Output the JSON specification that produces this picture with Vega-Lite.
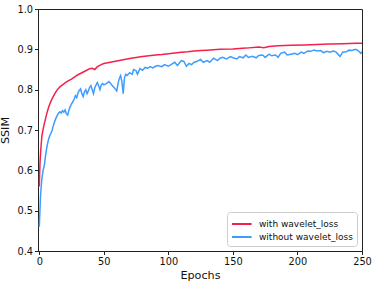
{
  "$schema": "https://vega.github.io/schema/vega-lite/v6.json",
  "width": 324,
  "height": 242,
  "autosize": {"type": "none"},
  "padding": {"left": 38, "top": 9, "right": 12, "bottom": 31},
  "background": "white",
  "config": {
    "view": {"stroke": "#222", "strokeWidth": 1},
    "font": "DejaVu Sans",
    "axis": {
      "labelFont": "DejaVu Sans",
      "labelFontSize": 9.8,
      "labelColor": "#111",
      "labelFlush": false,
      "titleFont": "DejaVu Sans",
      "titleFontSize": 11.2,
      "titleFontWeight": "normal",
      "titleColor": "#111",
      "tickColor": "#222",
      "domainColor": "#222",
      "tickSize": 3.5,
      "grid": false,
      "labelPadding": 2
    },
    "legend": {
      "labelFont": "DejaVu Sans",
      "labelFontSize": 9,
      "labelColor": "#111"
    }
  },
  "data": {
    "values": [
      {"e":0,"v":0.56,"s":"with wavelet_loss"},{"e":0.5,"v":0.615,"s":"with wavelet_loss"},{"e":1,"v":0.645,"s":"with wavelet_loss"},{"e":2,"v":0.685,"s":"with wavelet_loss"},{"e":3,"v":0.703,"s":"with wavelet_loss"},{"e":4,"v":0.717,"s":"with wavelet_loss"},{"e":5,"v":0.73,"s":"with wavelet_loss"},{"e":6,"v":0.743,"s":"with wavelet_loss"},{"e":7,"v":0.754,"s":"with wavelet_loss"},{"e":8,"v":0.763,"s":"with wavelet_loss"},{"e":9,"v":0.771,"s":"with wavelet_loss"},{"e":10,"v":0.778,"s":"with wavelet_loss"},{"e":12,"v":0.79,"s":"with wavelet_loss"},{"e":14,"v":0.8,"s":"with wavelet_loss"},{"e":16,"v":0.807,"s":"with wavelet_loss"},{"e":18,"v":0.812,"s":"with wavelet_loss"},{"e":20,"v":0.817,"s":"with wavelet_loss"},{"e":22,"v":0.821,"s":"with wavelet_loss"},{"e":25,"v":0.826,"s":"with wavelet_loss"},{"e":28,"v":0.833,"s":"with wavelet_loss"},{"e":30,"v":0.837,"s":"with wavelet_loss"},{"e":33,"v":0.842,"s":"with wavelet_loss"},{"e":36,"v":0.847,"s":"with wavelet_loss"},{"e":39,"v":0.852,"s":"with wavelet_loss"},{"e":41,"v":0.853,"s":"with wavelet_loss"},{"e":43,"v":0.85,"s":"with wavelet_loss"},{"e":45,"v":0.857,"s":"with wavelet_loss"},{"e":48,"v":0.862,"s":"with wavelet_loss"},{"e":50,"v":0.865,"s":"with wavelet_loss"},{"e":55,"v":0.868,"s":"with wavelet_loss"},{"e":60,"v":0.871,"s":"with wavelet_loss"},{"e":65,"v":0.874,"s":"with wavelet_loss"},{"e":70,"v":0.877,"s":"with wavelet_loss"},{"e":75,"v":0.88,"s":"with wavelet_loss"},{"e":80,"v":0.882,"s":"with wavelet_loss"},{"e":85,"v":0.884,"s":"with wavelet_loss"},{"e":90,"v":0.886,"s":"with wavelet_loss"},{"e":95,"v":0.887,"s":"with wavelet_loss"},{"e":100,"v":0.889,"s":"with wavelet_loss"},{"e":105,"v":0.891,"s":"with wavelet_loss"},{"e":110,"v":0.893,"s":"with wavelet_loss"},{"e":115,"v":0.894,"s":"with wavelet_loss"},{"e":120,"v":0.896,"s":"with wavelet_loss"},{"e":125,"v":0.897,"s":"with wavelet_loss"},{"e":130,"v":0.898,"s":"with wavelet_loss"},{"e":140,"v":0.9,"s":"with wavelet_loss"},{"e":150,"v":0.901,"s":"with wavelet_loss"},{"e":160,"v":0.903,"s":"with wavelet_loss"},{"e":170,"v":0.906,"s":"with wavelet_loss"},{"e":174,"v":0.904,"s":"with wavelet_loss"},{"e":178,"v":0.907,"s":"with wavelet_loss"},{"e":185,"v":0.909,"s":"with wavelet_loss"},{"e":195,"v":0.91,"s":"with wavelet_loss"},{"e":205,"v":0.911,"s":"with wavelet_loss"},{"e":215,"v":0.912,"s":"with wavelet_loss"},{"e":225,"v":0.913,"s":"with wavelet_loss"},{"e":235,"v":0.914,"s":"with wavelet_loss"},{"e":245,"v":0.915,"s":"with wavelet_loss"},{"e":250,"v":0.915,"s":"with wavelet_loss"},
      {"e":0,"v":0.46,"s":"without wavelet_loss"},{"e":1,"v":0.54,"s":"without wavelet_loss"},{"e":2,"v":0.58,"s":"without wavelet_loss"},{"e":3,"v":0.6,"s":"without wavelet_loss"},{"e":4,"v":0.615,"s":"without wavelet_loss"},{"e":5,"v":0.64,"s":"without wavelet_loss"},{"e":6,"v":0.66,"s":"without wavelet_loss"},{"e":7,"v":0.675,"s":"without wavelet_loss"},{"e":8,"v":0.685,"s":"without wavelet_loss"},{"e":9,"v":0.692,"s":"without wavelet_loss"},{"e":10,"v":0.7,"s":"without wavelet_loss"},{"e":11,"v":0.712,"s":"without wavelet_loss"},{"e":12,"v":0.722,"s":"without wavelet_loss"},{"e":13,"v":0.73,"s":"without wavelet_loss"},{"e":14,"v":0.737,"s":"without wavelet_loss"},{"e":15,"v":0.742,"s":"without wavelet_loss"},{"e":16,"v":0.745,"s":"without wavelet_loss"},{"e":17,"v":0.742,"s":"without wavelet_loss"},{"e":18,"v":0.748,"s":"without wavelet_loss"},{"e":19,"v":0.744,"s":"without wavelet_loss"},{"e":20,"v":0.75,"s":"without wavelet_loss"},{"e":21,"v":0.74,"s":"without wavelet_loss"},{"e":22,"v":0.737,"s":"without wavelet_loss"},{"e":23,"v":0.75,"s":"without wavelet_loss"},{"e":24,"v":0.758,"s":"without wavelet_loss"},{"e":25,"v":0.765,"s":"without wavelet_loss"},{"e":26,"v":0.77,"s":"without wavelet_loss"},{"e":27,"v":0.777,"s":"without wavelet_loss"},{"e":28,"v":0.785,"s":"without wavelet_loss"},{"e":29,"v":0.78,"s":"without wavelet_loss"},{"e":30,"v":0.792,"s":"without wavelet_loss"},{"e":31,"v":0.798,"s":"without wavelet_loss"},{"e":32,"v":0.802,"s":"without wavelet_loss"},{"e":33,"v":0.79,"s":"without wavelet_loss"},{"e":34,"v":0.783,"s":"without wavelet_loss"},{"e":35,"v":0.795,"s":"without wavelet_loss"},{"e":36,"v":0.8,"s":"without wavelet_loss"},{"e":37,"v":0.79,"s":"without wavelet_loss"},{"e":38,"v":0.797,"s":"without wavelet_loss"},{"e":39,"v":0.806,"s":"without wavelet_loss"},{"e":40,"v":0.81,"s":"without wavelet_loss"},{"e":41,"v":0.8,"s":"without wavelet_loss"},{"e":42,"v":0.79,"s":"without wavelet_loss"},{"e":43,"v":0.805,"s":"without wavelet_loss"},{"e":44,"v":0.812,"s":"without wavelet_loss"},{"e":45,"v":0.818,"s":"without wavelet_loss"},{"e":46,"v":0.81,"s":"without wavelet_loss"},{"e":47,"v":0.8,"s":"without wavelet_loss"},{"e":48,"v":0.812,"s":"without wavelet_loss"},{"e":49,"v":0.815,"s":"without wavelet_loss"},{"e":50,"v":0.812,"s":"without wavelet_loss"},{"e":52,"v":0.815,"s":"without wavelet_loss"},{"e":54,"v":0.82,"s":"without wavelet_loss"},{"e":56,"v":0.812,"s":"without wavelet_loss"},{"e":58,"v":0.805,"s":"without wavelet_loss"},{"e":60,"v":0.797,"s":"without wavelet_loss"},{"e":61,"v":0.815,"s":"without wavelet_loss"},{"e":62,"v":0.828,"s":"without wavelet_loss"},{"e":63,"v":0.835,"s":"without wavelet_loss"},{"e":64,"v":0.82,"s":"without wavelet_loss"},{"e":65,"v":0.79,"s":"without wavelet_loss"},{"e":66,"v":0.83,"s":"without wavelet_loss"},{"e":67,"v":0.838,"s":"without wavelet_loss"},{"e":68,"v":0.835,"s":"without wavelet_loss"},{"e":70,"v":0.842,"s":"without wavelet_loss"},{"e":72,"v":0.838,"s":"without wavelet_loss"},{"e":73,"v":0.85,"s":"without wavelet_loss"},{"e":75,"v":0.847,"s":"without wavelet_loss"},{"e":76,"v":0.838,"s":"without wavelet_loss"},{"e":78,"v":0.852,"s":"without wavelet_loss"},{"e":80,"v":0.848,"s":"without wavelet_loss"},{"e":82,"v":0.855,"s":"without wavelet_loss"},{"e":84,"v":0.853,"s":"without wavelet_loss"},{"e":86,"v":0.857,"s":"without wavelet_loss"},{"e":88,"v":0.854,"s":"without wavelet_loss"},{"e":90,"v":0.858,"s":"without wavelet_loss"},{"e":92,"v":0.86,"s":"without wavelet_loss"},{"e":95,"v":0.857,"s":"without wavelet_loss"},{"e":97,"v":0.862,"s":"without wavelet_loss"},{"e":100,"v":0.858,"s":"without wavelet_loss"},{"e":102,"v":0.862,"s":"without wavelet_loss"},{"e":105,"v":0.868,"s":"without wavelet_loss"},{"e":107,"v":0.86,"s":"without wavelet_loss"},{"e":110,"v":0.872,"s":"without wavelet_loss"},{"e":112,"v":0.87,"s":"without wavelet_loss"},{"e":114,"v":0.858,"s":"without wavelet_loss"},{"e":116,"v":0.865,"s":"without wavelet_loss"},{"e":118,"v":0.862,"s":"without wavelet_loss"},{"e":120,"v":0.868,"s":"without wavelet_loss"},{"e":122,"v":0.87,"s":"without wavelet_loss"},{"e":125,"v":0.875,"s":"without wavelet_loss"},{"e":127,"v":0.868,"s":"without wavelet_loss"},{"e":130,"v":0.872,"s":"without wavelet_loss"},{"e":132,"v":0.868,"s":"without wavelet_loss"},{"e":135,"v":0.878,"s":"without wavelet_loss"},{"e":138,"v":0.872,"s":"without wavelet_loss"},{"e":140,"v":0.878,"s":"without wavelet_loss"},{"e":142,"v":0.88,"s":"without wavelet_loss"},{"e":145,"v":0.876,"s":"without wavelet_loss"},{"e":148,"v":0.882,"s":"without wavelet_loss"},{"e":150,"v":0.879,"s":"without wavelet_loss"},{"e":153,"v":0.876,"s":"without wavelet_loss"},{"e":155,"v":0.882,"s":"without wavelet_loss"},{"e":158,"v":0.879,"s":"without wavelet_loss"},{"e":160,"v":0.886,"s":"without wavelet_loss"},{"e":162,"v":0.88,"s":"without wavelet_loss"},{"e":165,"v":0.883,"s":"without wavelet_loss"},{"e":168,"v":0.879,"s":"without wavelet_loss"},{"e":170,"v":0.885,"s":"without wavelet_loss"},{"e":173,"v":0.886,"s":"without wavelet_loss"},{"e":175,"v":0.88,"s":"without wavelet_loss"},{"e":178,"v":0.888,"s":"without wavelet_loss"},{"e":180,"v":0.884,"s":"without wavelet_loss"},{"e":183,"v":0.886,"s":"without wavelet_loss"},{"e":185,"v":0.88,"s":"without wavelet_loss"},{"e":187,"v":0.89,"s":"without wavelet_loss"},{"e":190,"v":0.893,"s":"without wavelet_loss"},{"e":192,"v":0.886,"s":"without wavelet_loss"},{"e":195,"v":0.888,"s":"without wavelet_loss"},{"e":198,"v":0.89,"s":"without wavelet_loss"},{"e":200,"v":0.887,"s":"without wavelet_loss"},{"e":203,"v":0.893,"s":"without wavelet_loss"},{"e":205,"v":0.89,"s":"without wavelet_loss"},{"e":208,"v":0.896,"s":"without wavelet_loss"},{"e":210,"v":0.895,"s":"without wavelet_loss"},{"e":213,"v":0.898,"s":"without wavelet_loss"},{"e":215,"v":0.896,"s":"without wavelet_loss"},{"e":218,"v":0.897,"s":"without wavelet_loss"},{"e":220,"v":0.892,"s":"without wavelet_loss"},{"e":223,"v":0.895,"s":"without wavelet_loss"},{"e":225,"v":0.893,"s":"without wavelet_loss"},{"e":228,"v":0.896,"s":"without wavelet_loss"},{"e":230,"v":0.893,"s":"without wavelet_loss"},{"e":233,"v":0.882,"s":"without wavelet_loss"},{"e":235,"v":0.893,"s":"without wavelet_loss"},{"e":238,"v":0.894,"s":"without wavelet_loss"},{"e":240,"v":0.898,"s":"without wavelet_loss"},{"e":242,"v":0.897,"s":"without wavelet_loss"},{"e":245,"v":0.9,"s":"without wavelet_loss"},{"e":247,"v":0.897,"s":"without wavelet_loss"},{"e":249,"v":0.89,"s":"without wavelet_loss"},{"e":250,"v":0.894,"s":"without wavelet_loss"}
    ]
  },
  "mark": {"type": "line", "strokeWidth": 1.5, "clip": true},
  "encoding": {
    "x": {
      "field": "e", "type": "quantitative", "title": "Epochs",
      "scale": {"domain": [-1, 250], "nice": false, "zero": false},
      "axis": {"values": [0, 50, 100, 150, 200, 250], "titlePadding": 3}
    },
    "y": {
      "field": "v", "type": "quantitative", "title": "SSIM",
      "scale": {"domain": [0.4, 1.0], "nice": false, "zero": false},
      "axis": {"values": [0.4, 0.5, 0.6, 0.7, 0.8, 0.9, 1.0], "format": ".1f", "titlePadding": 6}
    },
    "color": {
      "field": "s", "type": "nominal",
      "scale": {"domain": ["with wavelet_loss", "without wavelet_loss"], "range": ["#f5204a", "#3d9dff"]},
      "legend": {
        "title": null,
        "orient": "bottom-right",
        "offset": 5,
        "fillColor": "white",
        "strokeColor": "#cccccc",
        "cornerRadius": 3,
        "padding": 4,
        "symbolType": "M-1,0H1.8",
        "symbolStrokeWidth": 2,
        "symbolSize": 196,
        "rowPadding": 0,
        "labelOffset": 12
      }
    }
  }
}
